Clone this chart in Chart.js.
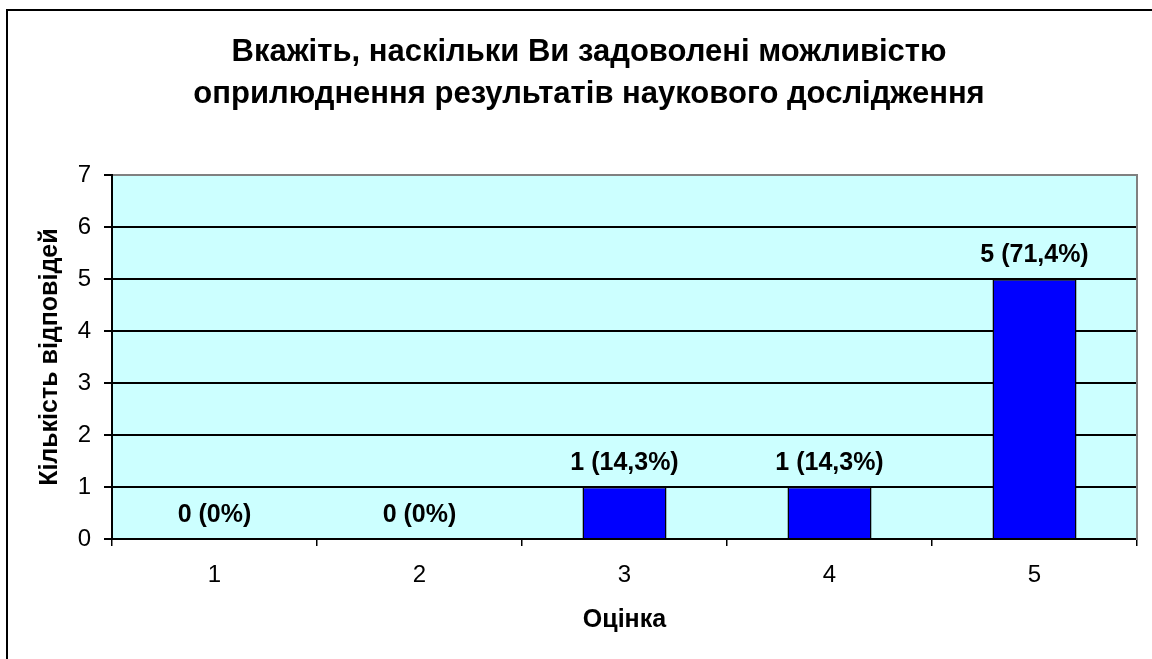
<!DOCTYPE html>
<html>
<head>
<meta charset="utf-8">
<script src="https://cdn.jsdelivr.net/npm/chart.js@4.4.1/dist/chart.umd.min.js"></script>
<style>
  html, body { margin: 0; padding: 0; background: #fff; overflow: hidden; }
  #wrap { position: relative; width: 1180px; height: 680px; }
</style>
</head>
<body>
<div id="wrap"><canvas id="chart" width="1180" height="680"></canvas></div>
<script>
// values
var categories = ['1', '2', '3', '4', '5'];
var counts = [0, 0, 1, 1, 5];
var percentLabels = ['0%', '0%', '14,3%', '14,3%', '71,4%'];
var yMin = 0, yMax = 7, yStep = 1;

var titleLines = [
  'Вкажіть, наскільки Ви задоволені можливістю',
  'оприлюднення результатів наукового дослідження'
];
var xTitle = 'Оцінка';
var yTitle = 'Кількість відповідей';

var FONT = 'Arial, "Liberation Sans", sans-serif';

// outer frame + cyan plot background
var framePlugin = {
  id: 'frame',
  beforeDraw: function(chart) {
    var ctx = chart.ctx;
    var a = chart.chartArea;
    ctx.save();
    ctx.fillStyle = '#fff';
    ctx.fillRect(0, 0, chart.width, chart.height);
    ctx.strokeStyle = '#000';
    ctx.lineWidth = 2;
    ctx.strokeRect(7, 10, 1160, 660);
    ctx.fillStyle = '#CCFFFF';
    ctx.fillRect(a.left, a.top, a.right - a.left, a.bottom - a.top);
    ctx.restore();
  }
};

// "n (p%)" above every bar
var valueLabels = {
  id: 'valueLabels',
  afterDatasetsDraw: function(chart) {
    var ctx = chart.ctx;
    var meta = chart.getDatasetMeta(0);
    ctx.save();
    ctx.font = 'bold 25px ' + FONT;
    ctx.fillStyle = '#000';
    ctx.textAlign = 'center';
    ctx.textBaseline = 'alphabetic';
    for (var i = 0; i < meta.data.length; i++) {
      var bar = meta.data[i];
      ctx.fillText(counts[i] + ' (' + percentLabels[i] + ')', bar.x, bar.y - 17);
    }
    ctx.restore();
  }
};

var ctx = document.getElementById('chart').getContext('2d');
new Chart(ctx, {
  type: 'bar',
  data: {
    labels: categories,
    datasets: [{
      data: counts,
      backgroundColor: '#0000FF',
      borderColor: '#000',
      borderWidth: function(c) { return c.raw === 0 ? 0 : 1.5; },
      categoryPercentage: 1,
      barPercentage: 0.41
    }]
  },
  options: {
    responsive: false,
    animation: false,
    layout: { padding: { left: 41, right: 43, top: 11, bottom: 0 } },
    plugins: {
      legend: { display: false },
      tooltip: { enabled: false },
      title: {
        display: true,
        text: titleLines,
        color: '#000',
        font: { family: FONT, size: 31, weight: 'bold', lineHeight: 1.36 },
        padding: { top: 20, bottom: 60 }
      }
    },
    scales: {
      x: {
        grid: { display: true, drawOnChartArea: false, drawTicks: true, tickLength: 7, color: '#000', lineWidth: 1.5 },
        border: { display: true, color: '#000', width: 2 },
        ticks: { color: '#000', padding: 15, font: { family: FONT, size: 24 } },
        title: {
          display: true, text: xTitle, color: '#000',
          font: { family: FONT, size: 25, weight: 'bold' },
          padding: { top: 0, bottom: 45 }
        },
        afterFit: function(s) { s.height = 141; }
      },
      y: {
        min: yMin, max: yMax,
        grid: {
          color: function(c) { return c.tick && c.tick.value === yMax ? '#808080' : '#000'; },
          tickColor: '#000',
          lineWidth: 2,
          tickLength: 8
        },
        border: { display: true, color: '#000', width: 2 },
        ticks: { stepSize: yStep, color: '#000', padding: 13, font: { family: FONT, size: 24 } },
        title: {
          display: true, text: yTitle, color: '#000',
          font: { family: FONT, size: 25, weight: 'bold' },
          padding: { top: -6, bottom: 0 }
        },
        afterFit: function(s) { s.width = 71; }
      },
      yRight: {
        position: 'right',
        min: yMin, max: yMax,
        grid: { drawOnChartArea: false, drawTicks: false },
        border: { display: true, color: '#808080', width: 2 },
        ticks: { display: false },
        afterFit: function(s) { s.width = 0; }
      }
    }
  },
  plugins: [framePlugin, valueLabels]
});
</script>
</body>
</html>
